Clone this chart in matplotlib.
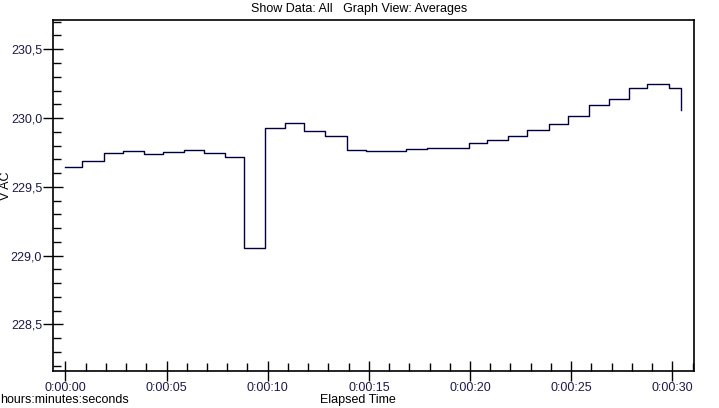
import numpy as np
import matplotlib.pyplot as plt
from matplotlib.ticker import MultipleLocator, FuncFormatter

# step edges (seconds) and averaged voltage of each step
t_edges = [0.0, 0.84, 1.93, 2.87, 3.86, 4.80, 5.85, 6.87, 7.91, 8.82, 9.85,
           10.87, 11.81, 12.85, 13.90, 14.85, 16.84, 17.86, 19.94, 20.83,
           21.90, 22.84, 23.88, 24.86, 25.90, 26.89, 27.88, 28.77, 29.86, 30.45]
v_avg = [229.645, 229.688, 229.746, 229.761, 229.739, 229.754, 229.768,
         229.746, 229.717, 229.058, 229.930, 229.964, 229.906, 229.870,
         229.768, 229.761, 229.775, 229.783, 229.819, 229.841, 229.870,
         229.913, 229.957, 230.014, 230.094, 230.138, 230.217, 230.246,
         230.217]
v_last = 230.058

plt.rcParams['font.family'] = ['Liberation Sans', 'DejaVu Sans']

fig = plt.figure(figsize=(7.19, 4.08), dpi=100)
ax = fig.add_axes([0.0741, 0.09, 0.8911, 0.8602])

ax.step(t_edges, v_avg + [v_last], where='post', color='#000040', lw=1.0)

ax.set_xlim(-0.6, 31.07)
ax.set_ylim(228.16, 230.71)

ax.xaxis.set_major_locator(MultipleLocator(5))
ax.xaxis.set_minor_locator(MultipleLocator(1))
ax.yaxis.set_major_locator(MultipleLocator(0.5))
ax.yaxis.set_minor_locator(MultipleLocator(0.1))

ax.xaxis.set_major_formatter(FuncFormatter(
    lambda s, p: '0:00:{:02d}'.format(int(round(s)))))
ax.yaxis.set_major_formatter(FuncFormatter(
    lambda v, p: '{:.1f}'.format(v).replace('.', ',')))

ax.tick_params(which='major', direction='inout', length=14, width=1,
               labelsize=9, colors='black', labelcolor='#1a1a4a', pad=1)
ax.tick_params(which='minor', direction='in', length=6, width=1)
ax.tick_params(axis='x', which='major', pad=1)

for sp in ax.spines.values():
    sp.set_linewidth(1.2)

fig.text(0.008, 0.545, 'V AC', fontsize=9, rotation=90, ha='center',
         va='center')
fig.text(0.498, 0.005, 'Elapsed Time', fontsize=9, ha='center',
         va='bottom')
fig.text(0.5, 0.993, 'Show Data: All   Graph View: Averages', fontsize=9,
         ha='center', va='top')
fig.text(0.0, 0.005, 'hours:minutes:seconds', fontsize=9, ha='left',
         va='bottom')

fig.savefig('out.png', dpi=100)
